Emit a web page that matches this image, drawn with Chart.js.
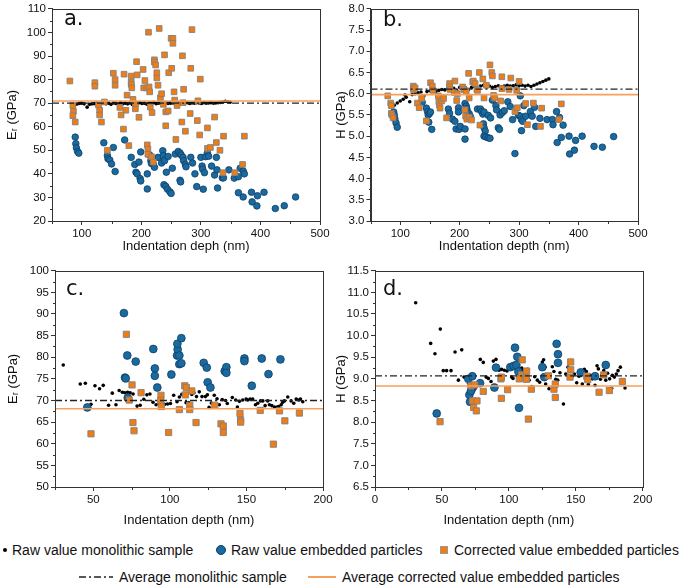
<!doctype html>
<html>
<head>
<meta charset="utf-8">
<title>Indentation modulus and hardness</title>
<script src="https://cdn.jsdelivr.net/npm/chart.js@4.4.0/dist/chart.umd.min.js"></script>
<style>
	body { margin: 0; background: #fff; font-family: "Liberation Sans", Arial, sans-serif; }
	#page { position: relative; width: 685px; height: 585px; overflow: hidden; }
	canvas { position: absolute; }
	.tag { position: absolute; font-family: "DejaVu Sans", Verdana, sans-serif; font-size: 21px; line-height: 21px; color: #111; }
	.leg { position: absolute; font-size: 14px; line-height: 18px; height: 18px; color: #111; white-space: nowrap; }
	.mk { position: absolute; box-sizing: border-box; }
</style>
</head>
<body>
<div id="page">
	<canvas id="panelA" width="340" height="256" style="left:0;top:0"></canvas>
	<canvas id="panelB" width="360" height="256" style="left:325px;top:0"></canvas>
	<canvas id="panelC" width="340" height="275" style="left:0;top:256px"></canvas>
	<canvas id="panelD" width="360" height="275" style="left:325px;top:256px"></canvas>

	<div class="tag" style="left:64px;top:8px">a.</div>
	<div class="tag" style="left:383px;top:9px">b.</div>
	<div class="tag" style="left:66px;top:278px">c.</div>
	<div class="tag" style="left:383px;top:278px">d.</div>

	<!-- legend -->
	<div class="mk" style="left:3px;top:548px;width:4px;height:4px;border-radius:50%;background:#000"></div>
	<div class="leg" style="left:12px;top:541px">Raw value monolithic sample</div>
	<div class="mk" style="left:216px;top:545px;width:10px;height:10px;border-radius:50%;background:#1a6aa0;border:1px solid #0e3f66"></div>
	<div class="leg" style="left:231px;top:541px">Raw value embedded particles</div>
	<div class="mk" style="left:440px;top:546px;width:8px;height:8px;background:#f07c12;border:1px solid #999"></div>
	<div class="leg" style="left:454px;top:541px">Corrected value embedded particles</div>

	<svg class="mk" style="left:78px;top:572px" width="36" height="10"><line x1="1" y1="5" x2="35" y2="5" stroke="#222" stroke-width="1.3" stroke-dasharray="7 3 2 3"/></svg>
	<div class="leg" style="left:119px;top:568px">Average monolithic sample</div>
	<div class="mk" style="left:308px;top:576px;width:28px;height:2px;background:#f5a05c"></div>
	<div class="leg" style="left:342px;top:568px">Average corrected value embedded particles</div>
</div>

<script>
	// ---- panel a : reduced modulus vs depth (large range)
	var aMono = [[84,69.0],[88,69.3],[92,69.6],[96,69.9],[100,70.0],[104,69.7],[109,68.3],[113,69.5],[117,69.7],[121,69.8],
		[125,70.1],[129,69.6],[133,69.9],[137,70.2],[141,69.8],[145,70.0],[149,69.5],[153,70.1],[157,69.9],[161,69.6],
		[165,70.2],[169,69.8],[173,70.0],[177,69.7],[181,70.1],[185,69.4],[189,70.0],[193,69.8],[197,70.2],[201,69.9],
		[205,70.0],[209,69.6],[213,70.1],[217,69.9],[221,70.2],[225,69.8],[229,70.0],[233,70.1],[237,69.7],[241,70.2],
		[245,69.9],[249,70.0],[253,70.1],[257,69.8],[261,70.2],[265,69.9],[269,70.1],[273,70.0],[277,70.2],[281,69.9],
		[285,70.1],[289,70.0],[293,70.2],[297,70.1],[301,69.9],[305,70.2],[309,70.0],[313,70.1],[317,70.2],[321,70.0],
		[325,70.1],[329,70.2],[333,70.3],[337,70.5],[341,70.8],[345,70.6],[349,70.4]];
	var aEmb = [[89,55.6],[90,52.8],[91,51],[93,49.5],[95,48.8],[137,53.2],[143,47.8],[144,46.4],[147,45.9],[150,44.2],
		[153,51.2],[156,41],[172,54.4],[183,47],[189,44],[191,40.7],[193,40],[196,45],[198,38],[199,37],[199,49.3],
		[210,40],[210,33.6],[214,48],[216,45.6],[217,44.4],[220,44.2],[222,42.8],[228,47],[234,44.6],[236,49.8],
		[237,47.7],[239,45.6],[242,40.7],[245,47.4],[238,35.4],[241,34.7],[244,33.5],[248,32.4],[250,31.7],[252,42.4],
		[257,48.4],[262,49.5],[265,48.8],[267,48],[270,47],[271,45.6],[274,44],[275,43],[265,37.3],[266,36.6],
		[283,47],[286,44.6],[290,40],[293,34.6],[300,47],[302,43.3],[303,42],[306,40.5],[308,47.3],[311,49],[313,47.5],
		[304,33.5],[318,43.3],[323,39.5],[326,47],[327,41.7],[328,34],[336,38.3],[338,38.3],[347,41.7],[356,38.2],
		[363,32],[363,38.8],[366,42.4],[371,41.2],[373,40],[371,30.2],[385,32.2],[386,28.1],[394,26.4],[395,30.7],
		[406,32.2],[425,25.3],[440,26.5],[459,30.2]];
	var aCor = [[80,79.4],[85,69],[86,66.5],[85,64.7],[89,62],[122,78.7],[122,77.2],[128,69.2],[130,67],[130,65],
		[133,62],[138,70.5],[143,50],[153,82.7],[156,80],[156,77.6],[164,68.2],[166,65],[170,59],[171,82.3],[174,67],
		[176,73.4],[179,52],[183,81.5],[183,79],[183,78],[184,76.5],[186,71.6],[190,69.5],[190,67.6],[192,87.6],
		[193,82],[196,64],[203,84.3],[204,76.5],[206,79.6],[209,76.5],[210,52.3],[211,50.5],[211,48.3],[212,100.1],
		[213,76.9],[214,74.8],[215,68.4],[217,47.3],[218,66],[220,45],[222,88.4],[222,87.4],[224,86.2],[226,82.9],
		[226,80.7],[228,77.6],[230,101.7],[232,72.3],[234,74],[237,69.5],[239,90.5],[241,66.3],[241,60.4],[245,66.7],
		[246,82.9],[250,97.5],[253,97.5],[251,84.8],[253,95.4],[255,74.8],[256,71.3],[258,54.6],[260,69],[268,62],
		[269,90.1],[270,70.2],[271,75.9],[274,58.1],[282,65.6],[283,84.8],[285,101.2],[294,62.6],[295,71],[298,56.5],
		[299,80.2],[311,59.5],[311,50.8],[316,51.2],[323,64.1],[326,53.3],[332,50],[338,56],[337,40.5],[357,40.5],
		[370,44],[373,56]];
	var aAvg = [70.0, 70.9];   // monolithic, corrected
	var aXTicks = [100, 200, 300, 400, 500];
	var aYTicks = [20, 30, 40, 50, 60, 70, 80, 90, 100, 110];

	// ---- panel b : hardness vs depth (large range)
	var bMono = [[85,5.70],[90,5.73],[95,5.78],[100,5.83],[105,5.87],[108,5.97],[110,5.92],[116,5.81],[120,5.98],[125,6.0],
		[130,6.02],[135,6.04],[140,5.95],[145,6.05],[150,6.07],[155,6.08],[160,6.05],[165,6.08],[170,6.1],[175,6.09],
		[180,6.12],[185,6.1],[190,6.13],[195,6.08],[200,6.15],[205,6.12],[210,6.14],[215,6.1],[220,6.15],[225,6.17],
		[230,6.12],[235,6.18],[240,6.2],[245,6.16],[250,6.18],[255,6.15],[260,6.17],[265,6.19],[270,6.16],[275,6.18],
		[280,6.2],[285,6.18],[290,6.19],[295,6.21],[300,6.19],[305,6.2],[310,6.18],[315,6.2],[320,6.17],[325,6.2],
		[330,6.23],[335,6.26],[340,6.29],[345,6.32],[350,6.35]];
	var bEmb = [[89,5.57],[90,5.5],[91,5.41],[93,5.31],[95,5.21],[137,5.8],[144,5.66],[146,5.58],[147,5.5],[149,5.53],
		[148,5.33],[151,5.57],[153,5.16],[181,5.64],[183,5.54],[188,5.4],[192,5.35],[194,5.17],[198,5.67],[198,5.57],
		[199,5.16],[201,5.23],[209,5.77],[211,5.71],[212,5.65],[213,5.58],[216,5.53],[218,5.46],[209,5.17],[209,4.93],
		[230,5.64],[235,5.64],[237,5.58],[239,5.52],[241,5.57],[240,5.29],[241,5.2],[243,5.12],[241,5.0],[244,4.98],
		[248,4.96],[251,4.95],[248,5.49],[252,5.43],[255,5.85],[261,5.72],[262,5.62],[268,5.5],[272,5.56],[275,5.6],
		[265,5.2],[267,5.16],[281,5.81],[285,5.7],[289,5.39],[293,4.59],[299,5.49],[302,5.47],[304,5.39],[306,5.35],
		[302,5.95],[304,5.13],[308,5.72],[311,5.47],[319,5.58],[322,5.47],[326,5.68],[328,5.23],[335,5.42],[347,5.39],
		[356,5.39],[357,5.27],[363,5.58],[364,4.85],[368,5.44],[371,4.97],[374,5.26],[384,5.0],[385,4.58],[393,4.67],
		[395,4.9],[406,5.0],[426,4.76],[440,4.74],[459,4.99]];
	var bCor = [[79,5.95],[84,5.78],[85,5.72],[85,5.54],[86,5.5],[88,5.43],[122,6.18],[122,6.1],[125,6.14],[129,5.78],
		[132,5.67],[136,5.89],[144,5.36],[151,6.26],[154,6.18],[155,6.08],[164,5.95],[165,5.81],[166,5.73],[167,5.66],
		[170,5.83],[173,5.89],[178,5.43],[183,6.24],[183,6.16],[184,6.1],[191,6.03],[192,6.3],[195,5.84],[196,6.0],
		[205,6.16],[207,6.1],[211,6.06],[209,5.62],[210,5.47],[212,5.4],[215,6.48],[216,5.9],[216,5.45],[220,5.38],
		[222,6.28],[223,6.3],[226,6.24],[229,6.1],[230,6.08],[233,6.5],[234,5.26],[239,6.35],[241,5.9],[245,6.2],
		[251,6.68],[254,6.5],[255,6.42],[257,5.96],[259,5.9],[269,5.83],[271,6.4],[271,6.12],[283,6.1],[286,6.37],
		[293,5.58],[296,6.08],[297,5.67],[300,6.29],[311,5.77],[314,5.27],[324,5.78],[336,5.23],[338,5.66],[367,5.39],
		[371,5.76]];
	var bAvg = [6.11, 5.98];
	var bXTicks = [100, 200, 300, 400, 500];
	var bYTicks = [3.0, 3.5, 4.0, 4.5, 5.0, 5.5, 6.0, 6.5, 7.0, 7.5, 8.0];

	// ---- panel c : reduced modulus vs depth (shallow)
	var cMono = [[30.4,78.2],[41.5,73.8],[44.8,74.0],[48.5,69.1],[51.1,73.4],[54.1,72.7],[56.5,73.5],[60,68.9],[62.4,71.7],
		[64.8,69.0],[66.9,72.3],[69,71.9],[70.6,71.8],[72.4,71.9],[74.1,71.8],[76,71.5],[78.6,68.7],[80.6,68.9],[83,70.3],
		[85,71.3],[87,71.5],[89,69.6],[91,69.0],[93,69.2],[95,69.0],[96.6,69.1],[98.5,69.2],[100.4,69.3],[102.5,71.2],
		[104.7,69.7],[106.2,70.8],[107.8,71.4],[110.6,69.5],[112.3,69.5],[114.3,71.4],[115.7,71.8],[117.4,70.9],[119.2,72.0],
		[121,70.9],[123.2,70.9],[124.5,71.3],[125.6,68.4],[127.1,69.4],[129,71.2],[130.8,70.4],[132.3,69.0],[134.2,70.2],
		[136.4,70.0],[137.5,69.3],[140.8,70.7],[143,70.1],[144.1,68.5],[145.4,69.8],[147.6,70.1],[149.8,70.35],[150.9,70.1],
		[152.4,70.35],[154.1,70.35],[155.9,69.0],[157.4,69.35],[159.2,69.9],[160.7,69.9],[162.2,68.8],[163.9,69.9],[165,69.0],
		[166.6,68.8],[168.3,68.5],[170,68.5],[171.1,68.6],[172.7,69.0],[173.7,69.6],[174.8,69.9],[177,70.8],[179.2,69.9],
		[180.9,69.35],[182.5,70.35],[184.2,70.1],[185.3,70.35],[186.8,69.7]];
	var cEmb = [[46.1,68.4],[70.0,90.2],[70.7,75.3],[71.2,75.1],[72.2,80.4],[72.5,70.6],[77.7,79.0],[89.2,81.9],[90.2,77.4],
		[90.2,75.7],[91.8,73.0],[101,76.0],[104.7,80.4],[105.1,81.8],[104.9,83.1],[106.2,80.4],[106.2,78.4],[107.5,78.6],
		[107.5,84.4],[122.1,78.7],[124.1,77.6],[124.7,74.2],[126.5,73.0],[135.8,76.8],[136.9,77.7],[136.9,76.4],
		[148.7,79.7],[148.7,79.1],[153.5,73.4],[160,79.7],[164.4,76.1],[172.2,79.5]];
	var cCor = [[48.5,62.3],[71.6,85.3],[73.5,70.1],[75.3,73.6],[75.9,64.9],[76.6,63.0],[81.2,71.8],[94.2,71.2],[94.0,70.0],
		[94.4,68.6],[99.2,62.6],[109.7,73.4],[110.8,73.0],[110.1,71.3],[106.2,67.9],[113,68.9],[113,67.9],[114.3,72.2],
		[117.1,64.9],[129.3,68.9],[133.4,64.6],[134.9,64.1],[134.9,62.6],[145.8,67.0],[146.2,65.5],[146.2,65.0],
		[159.0,67.7],[167.6,59.9],[171.6,67.6],[175.1,65.3],[184.6,67.1]];
	var cAvg = [70.0, 68.1];
	var cXTicks = [50, 100, 150, 200];
	var cYTicks = [50, 55, 60, 65, 70, 75, 80, 85, 90, 95, 100];

	// ---- panel d : hardness vs depth (shallow)
	var dMono = [[30.4,10.76],[41.6,9.82],[44.8,9.58],[48.8,10.15],[51,9.19],[53.5,9.19],[56.8,9.19],[59.8,9.62],[62.3,8.97],
		[64.8,9.67],[66.5,9.04],[70,8.9],[74.7,8.77],[78.7,9.45],[80.9,9.38],[83,9.04],[84.7,9.01],[86.7,8.94],[88.4,9.41],
		[90.4,9.45],[92.7,9.2],[94.6,9.22],[96.6,9.2],[98.6,9.18],[100.9,9.28],[102.1,9.04],[103.1,9.01],[108.6,9.42],
		[109.6,9.25],[111.1,9.2],[112.6,8.99],[114.1,9.22],[115.1,8.97],[117.1,8.82],[119.3,9.05],[121.3,8.97],[123,8.92],
		[125,9.39],[126,9.44],[127,9.27],[127.5,8.88],[129,9.08],[130,8.77],[132.5,9.28],[133.7,9.17],[135,8.99],[136.5,8.97],
		[138.2,9.14],[140.8,8.42],[142.5,9.11],[144.2,9.27],[145.5,9.02],[147.4,9.06],[149,9.11],[150.7,8.91],[152.4,9.06],
		[153.9,9.08],[154.9,8.88],[156.4,9.22],[157.9,9.17],[159.4,8.87],[160.9,9.08],[162.4,9.0],[164.4,8.85],[165.9,9.3],
		[166.9,9.23],[168.4,8.99],[169.4,9.08],[170.9,9.19],[172.4,8.97],[173.8,9.13],[175.3,9.0],[176.8,8.78],[177.3,9.08],
		[178.8,9.04],[180.3,9.11],[181.6,9.19],[183.3,9.27],[184.6,8.97],[186.8,8.79]];
	var dEmb = [[46.1,8.20],[69.7,9.0],[72.7,9.06],[72.2,8.76],[70.5,8.63],[71.0,8.47],[71.7,8.72],[78.5,8.90],[89.2,8.80],
		[90.4,9.26],[101.1,9.27],[104.6,9.72],[103.6,9.30],[106.3,9.51],[105.6,9.32],[107.1,9.17],[107.6,8.33],[125,9.27],
		[126.5,9.04],[135.7,9.81],[136.7,9.57],[136.7,9.37],[153.7,9.15],[164.4,9.06],[172.4,9.32]];
	var dCor = [[48.6,8.01],[71.7,8.84],[74.5,8.86],[73,8.49],[73.7,8.34],[76.2,8.49],[75.7,8.26],[80.9,8.71],[94.1,9.0],
		[94.4,9.04],[94.4,8.55],[99.1,8.75],[110,9.44],[109.6,9.09],[107.8,9.0],[112.8,9.03],[113.1,8.99],[113.3,9.18],
		[116.8,8.76],[114.6,8.07],[129.5,9.07],[133.7,8.76],[134.7,8.88],[134.7,8.57],[146.2,9.39],[146.2,9.21],[145.7,9.04],
		[158.2,9.06],[158.9,8.98],[167.4,8.69],[170.9,9.09],[175.1,8.73],[184.8,8.94]];
	var dAvg = [9.07, 8.835];
	var dXTicks = [0, 50, 100, 150, 200];
	var dYTicks = [6.5, 7.0, 7.5, 8.0, 8.5, 9.0, 9.5, 10.0, 10.5, 11.0, 11.5];

	var BLUE = '#1a6aa0', BLUE_EDGE = '#0e3f66', ORANGE = '#f07c12', AVG_ORANGE = '#f5a05c', INK = '#333';

	Chart.defaults.font.family = '"Liberation Sans", Arial, sans-serif';
	Chart.defaults.color = '#111';

	function pts(arr) {
		return arr.map(function (p) { return {x: p[0], y: p[1]}; });
	}

	// top/right frame + minor ticks half way between the majors
	var framePlugin = {
		id: 'frame',
		afterDraw: function (chart) {
			var ctx = chart.ctx, ca = chart.chartArea;
			var l = Math.round(ca.left) + 0.5, r = Math.round(ca.right) + 0.5;
			var t = Math.round(ca.top) + 0.5, b = Math.round(ca.bottom) + 0.5;
			ctx.save();
			ctx.strokeStyle = INK;
			ctx.lineWidth = 1;
			ctx.strokeRect(l, t, r - l, b - t);
			['x', 'y'].forEach(function (id) {
				var s = chart.scales[id];
				var tv = s.ticks.map(function (k) { return k.value; });
				var step = tv[1] - tv[0];
				var minors = [];
				for (var v = tv[0] - step / 2; v >= s.min - 1e-9; v -= step) minors.push(v);
				for (var i = 0; i < tv.length; i++) {
					var m = tv[i] + step / 2;
					if (m <= s.max + 1e-9) minors.push(m);
				}
				ctx.beginPath();
				minors.forEach(function (v) {
					var p = Math.round(s.getPixelForValue(v)) + 0.5;
					if (id === 'x') { ctx.moveTo(p, b); ctx.lineTo(p, b + 2.5); }
					else { ctx.moveTo(l, p); ctx.lineTo(l - 2.5, p); }
				});
				ctx.stroke();
			});
			ctx.restore();
		}
	};

	function makePanel(id, cfg) {
		var big = cfg.big;
		var datasets = [
			{ data: [{x: cfg.xMin, y: cfg.avg[0]}, {x: cfg.xMax, y: cfg.avg[0]}], showLine: true, pointRadius: 0,
			  borderColor: '#222', borderWidth: 1.3, borderDash: [7, 3, 2, 3] },
			{ data: [{x: cfg.xMin, y: cfg.avg[1]}, {x: cfg.xMax, y: cfg.avg[1]}], showLine: true, pointRadius: 0,
			  borderColor: AVG_ORANGE, borderWidth: 1.6 },
			{ data: pts(cfg.cor), pointStyle: 'rect', pointRadius: big ? 4.4 : 4.0,
			  backgroundColor: ORANGE, borderColor: 'rgba(130,130,130,0.9)', borderWidth: 1 },
			{ data: pts(cfg.emb), pointStyle: 'circle', pointRadius: big ? 3.9 : 3.3,
			  backgroundColor: BLUE, borderColor: BLUE_EDGE, borderWidth: 0.8 },
			{ data: pts(cfg.mono), pointStyle: 'circle', pointRadius: 1.8,
			  backgroundColor: '#000', borderColor: '#000', borderWidth: 0 }
		];
		var fmt = cfg.decimals ? function (v) { return Number(v).toFixed(1); } : function (v) { return String(v); };
		return new Chart(id, {
			type: 'scatter',
			data: { datasets: datasets },
			options: {
				responsive: false,
				animation: false,
				events: [],
				layout: { padding: cfg.pad },
				plugins: { legend: { display: false }, tooltip: { enabled: false } },
				scales: {
					x: {
						type: 'linear', min: cfg.xMin, max: cfg.xMax,
						afterBuildTicks: function (s) { s.ticks = cfg.xTicks.map(function (v) { return {value: v}; }); },
						afterFit: function (s) { s.height = cfg.xH; },
						ticks: { font: { size: 11.5 }, padding: 2, maxRotation: 0, color: '#111' },
						grid: { drawOnChartArea: false, tickLength: 4, color: INK },
						border: { color: INK },
						title: { display: true, text: cfg.xTitle, font: { size: 13 }, padding: { top: 0, bottom: cfg.xTitlePad }, color: '#111' }
					},
					y: {
						type: 'linear', min: cfg.yMin, max: cfg.yMax,
						afterBuildTicks: function (s) { s.ticks = cfg.yTicks.map(function (v) { return {value: v}; }); },
						afterFit: function (s) { s.width = cfg.yW; },
						ticks: { font: { size: 11.5 }, padding: 2, callback: fmt, color: '#111' },
						grid: { drawOnChartArea: false, tickLength: 4, color: INK },
						border: { color: INK },
						title: { display: true, text: cfg.yTitle, font: { size: 13 }, padding: { top: cfg.yTitlePad, bottom: 0 }, color: '#111' }
					}
				}
			},
			plugins: [framePlugin]
		});
	}

	makePanel('panelA', {
		mono: aMono, emb: aEmb, cor: aCor, avg: aAvg, xTicks: aXTicks, yTicks: aYTicks,
		xMin: 50, xMax: 500, yMin: 20, yMax: 110, big: false, decimals: false,
		pad: {top: 6, right: 20, left: 0, bottom: 0}, yW: 52, xH: 35, xTitlePad: 2, yTitlePad: 5,
		xTitle: 'Indentation deph (nm)', yTitle: 'Eᵣ (GPa)'
	});
	makePanel('panelB', {
		mono: bMono, emb: bEmb, cor: bCor, avg: bAvg, xTicks: bXTicks, yTicks: bYTicks,
		xMin: 50, xMax: 500, yMin: 3, yMax: 8, big: false, decimals: true,
		pad: {top: 6, right: 47, left: 0, bottom: 0}, yW: 45.5, xH: 35, xTitlePad: 2, yTitlePad: 9,
		xTitle: 'Indentation depth (nm)', yTitle: 'H (GPa)'
	});
	makePanel('panelC', {
		mono: cMono, emb: cEmb, cor: cCor, avg: cAvg, xTicks: cXTicks, yTicks: cYTicks,
		xMin: 25, xMax: 200, yMin: 50, yMax: 100, big: true, decimals: false,
		pad: {top: 14.7, right: 17, left: 0, bottom: 0}, yW: 55, xH: 44, xTitlePad: 3, yTitlePad: 6,
		xTitle: 'Indentation depth (nm)', yTitle: 'Eᵣ (GPa)'
	});
	makePanel('panelD', {
		mono: dMono, emb: dEmb, cor: dCor, avg: dAvg, xTicks: dXTicks, yTicks: dYTicks,
		xMin: 0, xMax: 200, yMin: 6.5, yMax: 11.5, big: true, decimals: true,
		pad: {top: 14.7, right: 42.3, left: 0, bottom: 0}, yW: 50, xH: 44, xTitlePad: 3, yTitlePad: 9,
		xTitle: 'Indentation depth (nm)', yTitle: 'H (GPa)'
	});
</script>
</body>
</html>
